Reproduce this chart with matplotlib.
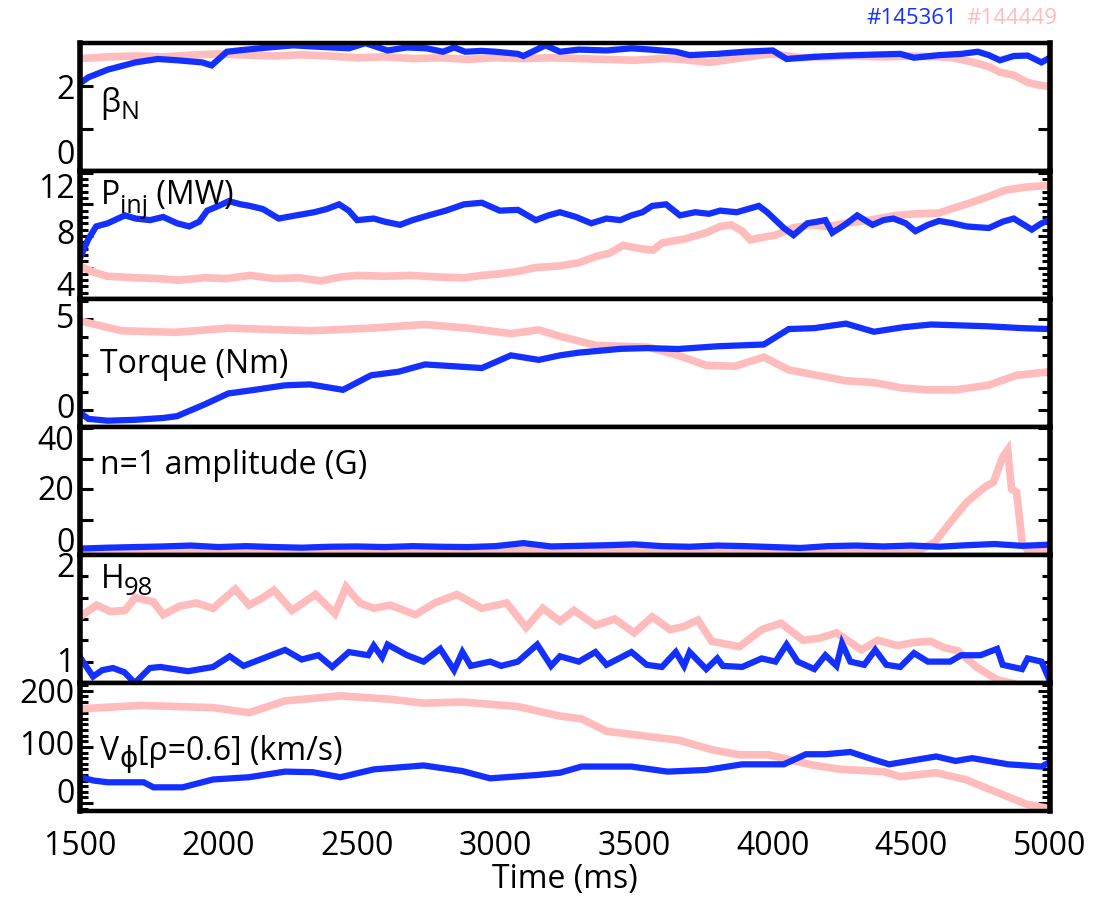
import matplotlib
matplotlib.use("Agg")
import matplotlib.pyplot as plt
from matplotlib.ticker import MultipleLocator

plt.rcParams['font.family'] = ['Open Sans', 'DejaVu Sans']
plt.rcParams['mathtext.fontset'] = 'custom'
plt.rcParams['mathtext.rm'] = 'Open Sans'
plt.rcParams['mathtext.it'] = 'Open Sans'

# shot numbers
shot_a = '#145361'   # blue
shot_b = '#144449'   # pink

# beta_N
t_bn_a = [1500, 1530, 1600, 1700, 1780, 1850, 1940, 1975, 2030, 2100, 2180, 2270, 2350, 2470, 2530, 2610,
          2680, 2750, 2810, 2850, 2890, 2950, 3000, 3080, 3100, 3180, 3232, 3300, 3400, 3490, 3560, 3650,
          3700, 3800, 3900, 4000, 4050, 4150, 4250, 4350, 4460, 4510, 4600, 4680, 4740, 4780, 4820, 4870,
          4920, 4970, 5000]
bn_a = [2.06, 2.2, 2.38, 2.55, 2.63, 2.6, 2.55, 2.48, 2.8, 2.85, 2.9, 2.95, 2.92, 2.88, 3.0, 2.83,
        2.9, 2.88, 2.8, 2.9, 2.8, 2.82, 2.8, 2.75, 2.7, 2.95, 2.8, 2.85, 2.83, 2.88, 2.85, 2.8,
        2.72, 2.75, 2.8, 2.83, 2.63, 2.68, 2.71, 2.73, 2.75, 2.66, 2.72, 2.75, 2.8, 2.72, 2.6, 2.7,
        2.71, 2.55, 2.66]
t_bn_b = [1500, 1600, 1700, 1800, 1900, 2000, 2100, 2200, 2300, 2400, 2500, 2600, 2700, 2800, 2900, 3000,
          3100, 3200, 3300, 3400, 3500, 3600, 3650, 3700, 3770, 3850, 3950, 4000, 4100, 4200, 4300, 4400,
          4500, 4600, 4650, 4720, 4780, 4820, 4870, 4920, 4960, 5000]
bn_b = [2.64, 2.68, 2.7, 2.68, 2.72, 2.75, 2.72, 2.7, 2.73, 2.7, 2.66, 2.68, 2.64, 2.66, 2.62, 2.66,
        2.64, 2.66, 2.64, 2.62, 2.6, 2.64, 2.63, 2.6, 2.55, 2.62, 2.72, 2.75, 2.66, 2.68, 2.7, 2.68,
        2.7, 2.68, 2.66, 2.56, 2.45, 2.32, 2.25, 2.08, 2.02, 1.98]

# injected power (MW)
t_p_a = [1500, 1530, 1558, 1600, 1662, 1700, 1753, 1800, 1850, 1894, 1930, 1959, 2000, 2037, 2080, 2113,
         2160, 2217, 2280, 2345, 2390, 2435, 2470, 2500, 2560, 2600, 2655, 2700, 2758, 2820, 2886, 2950,
         3015, 3080, 3145, 3190, 3232, 3290, 3345, 3400, 3450, 3490, 3530, 3565, 3615, 3665, 3720, 3770,
         3810, 3870, 3950, 3980, 4010, 4040, 4075, 4125, 4160, 4190, 4215, 4260, 4305, 4360, 4400, 4435,
         4480, 4515, 4560, 4600, 4650, 4700, 4780, 4830, 4870, 4935, 4970, 5000]
p_a = [6.6, 7.8, 8.6, 8.8, 9.3, 9.1, 9.0, 9.2, 8.8, 8.6, 8.9, 9.6, 9.9, 10.2, 10.0, 9.9,
       9.7, 9.1, 9.3, 9.5, 9.7, 10.0, 9.6, 9.0, 9.1, 8.9, 8.7, 9.0, 9.3, 9.6, 10.0, 10.1,
       9.6, 9.65, 9.0, 9.3, 9.5, 9.2, 8.8, 9.1, 9.0, 9.3, 9.5, 9.9, 10.0, 9.3, 9.5, 9.4,
       9.6, 9.5, 9.9, 9.5, 9.0, 8.5, 8.05, 8.8, 8.9, 9.0, 8.2, 8.7, 9.3, 8.7, 9.0, 9.1,
       8.8, 8.3, 8.7, 8.95, 8.8, 8.6, 8.5, 8.9, 9.1, 8.4, 8.8, 9.0]
t_p_b = [1500, 1550, 1598, 1700, 1780, 1856, 1950, 2030, 2113, 2200, 2290, 2370, 2440, 2500, 2600, 2694,
         2790, 2886, 2950, 3015, 3080, 3145, 3232, 3300, 3362, 3410, 3460, 3520, 3568, 3600, 3680, 3760,
         3810, 3850, 3890, 3920, 3960, 4010, 4070, 4140, 4200, 4264, 4350, 4445, 4520, 4600, 4660, 4715,
         4780, 4840, 4920, 5000]
p_b = [6.1, 5.7, 5.45, 5.35, 5.3, 5.2, 5.35, 5.3, 5.5, 5.3, 5.35, 5.15, 5.4, 5.5, 5.45, 5.5,
       5.4, 5.35, 5.5, 5.6, 5.75, 6.0, 6.1, 6.3, 6.7, 6.9, 7.4, 7.2, 7.1, 7.55, 7.8, 8.2,
       8.6, 8.7, 8.3, 7.75, 7.9, 8.05, 8.5, 8.7, 8.6, 8.8, 9.0, 9.3, 9.4, 9.45, 9.8, 10.1,
       10.5, 10.9, 11.1, 11.2]

# torque (Nm)
t_q_a = [1500, 1530, 1600, 1700, 1800, 1850, 1950, 2035, 2130, 2240, 2330, 2449, 2550, 2650, 2745, 2850,
         2950, 3055, 3156, 3232, 3300, 3452, 3550, 3658, 3800, 3968, 4058, 4150, 4264, 4365, 4471, 4571,
         4680, 4779, 4900, 5000]
q_a = [-0.15, -0.5, -0.6, -0.55, -0.45, -0.35, 0.3, 0.9, 1.1, 1.35, 1.4, 1.1, 1.9, 2.1, 2.5, 2.4,
       2.3, 3.0, 2.75, 3.0, 3.15, 3.36, 3.4, 3.35, 3.5, 3.6, 4.45, 4.5, 4.75, 4.3, 4.55, 4.7,
       4.65, 4.6, 4.5, 4.45]
t_q_b = [1500, 1649, 1843, 2035, 2333, 2550, 2745, 2900, 3055, 3156, 3232, 3362, 3553, 3658, 3760, 3864,
         3968, 4058, 4160, 4264, 4365, 4469, 4560, 4660, 4779, 4880, 5000]
q_b = [4.9, 4.36, 4.27, 4.5, 4.36, 4.5, 4.7, 4.5, 4.2, 4.4, 4.05, 3.55, 3.45, 3.0, 2.45, 2.4,
       2.9, 2.2, 1.9, 1.6, 1.5, 1.2, 1.1, 1.1, 1.36, 1.9, 2.1]

# n=1 amplitude (G)
t_n_a = [1500, 1600, 1700, 1800, 1900, 2000, 2100, 2200, 2300, 2400, 2500, 2600, 2700, 2800, 2900, 3000,
         3100, 3200, 3300, 3400, 3500, 3600, 3700, 3800, 3900, 4000, 4100, 4200, 4300, 4400, 4500, 4600,
         4700, 4800, 4900, 5000]
n_a = [0.5, 0.8, 1.0, 1.2, 1.5, 1.0, 1.3, 1.0, 0.8, 1.1, 1.2, 1.0, 1.3, 1.1, 1.0, 1.3,
       2.3, 1.2, 1.4, 1.6, 1.9, 1.3, 1.1, 1.5, 1.3, 1.0, 0.7, 1.3, 1.5, 1.2, 1.5, 1.1,
       1.6, 2.0, 1.4, 1.8]
t_n_b = [1500, 2000, 2500, 3000, 3500, 4000, 4530, 4585, 4640, 4700, 4765, 4797, 4830, 4848, 4862, 4880,
         4900, 4920, 5000]
n_b = [0, 0, 0, 0, 0, 0, 0, 2.6, 9, 15.7, 20.6, 22.3, 30.5, 32.8, 20, 19,
       2.6, 0, 0]

# H98
t_h_a = [1500, 1547, 1580, 1619, 1660, 1698, 1752, 1790, 1890, 1980, 2040, 2090, 2170, 2240, 2300, 2360,
         2410, 2470, 2540, 2560, 2590, 2610, 2680, 2740, 2800, 2850, 2880, 2910, 2980, 3020, 3080, 3150,
         3200, 3232, 3300, 3360, 3400, 3490, 3545, 3600, 3650, 3680, 3700, 3760, 3800, 3820, 3890, 3960,
         4010, 4050, 4090, 4150, 4190, 4230, 4250, 4280, 4330, 4370, 4410, 4460, 4510, 4560, 4640, 4680,
         4750, 4810, 4830, 4900, 4920, 4970, 4990, 5000]
h_a = [1.04, 0.86, 0.92, 0.94, 0.9, 0.8, 0.94, 0.95, 0.91, 0.95, 1.05, 0.96, 1.04, 1.11, 1.02, 1.06,
       0.95, 1.09, 1.06, 1.15, 1.04, 1.16, 1.06, 1.0, 1.12, 0.92, 1.09, 0.96, 1.0, 0.96, 1.0, 1.16,
       0.96, 1.05, 1.0, 1.09, 0.97, 1.09, 0.97, 0.95, 1.09, 0.96, 1.09, 0.93, 1.03, 0.96, 0.95, 1.03,
       1.0, 1.16, 1.0, 0.93, 1.06, 0.96, 1.17, 1.0, 0.97, 1.11, 0.97, 0.95, 1.08, 1.0, 1.0, 1.06,
       1.06, 1.12, 0.97, 0.93, 1.03, 1.0, 0.88, 0.95]
t_h_b = [1500, 1560, 1610, 1662, 1700, 1765, 1800, 1860, 1920, 1980, 2060, 2110, 2160, 2200, 2265, 2350,
         2420, 2460, 2510, 2560, 2620, 2710, 2780, 2860, 2950, 3040, 3110, 3170, 3232, 3283, 3360, 3430,
         3500, 3565, 3630, 3680, 3730, 3780, 3880, 3960, 4030, 4110, 4170, 4230, 4320, 4380, 4450, 4510,
         4570, 4620, 4670, 4735, 4810, 4860]
h_b = [1.42, 1.53, 1.47, 1.48, 1.6, 1.56, 1.44, 1.52, 1.55, 1.5, 1.68, 1.53, 1.6, 1.67, 1.48, 1.63,
       1.45, 1.7, 1.55, 1.5, 1.53, 1.44, 1.55, 1.63, 1.5, 1.55, 1.32, 1.5, 1.38, 1.48, 1.34, 1.4,
       1.27, 1.42, 1.3, 1.33, 1.39, 1.19, 1.14, 1.3, 1.36, 1.2, 1.22, 1.27, 1.11, 1.2, 1.15, 1.18,
       1.19, 1.13, 1.1, 0.95, 0.83, 0.8]

# V_phi at rho=0.6 (km/s)
t_v_a = [1500, 1550, 1600, 1730, 1765, 1870, 1980, 2110, 2240, 2340, 2440, 2560, 2740, 2880, 2980, 3150,
         3232, 3310, 3490, 3620, 3760, 3890, 4040, 4120, 4190, 4280, 4360, 4420, 4590, 4660, 4720, 4850,
         4970, 5000]
v_a = [46, 40, 37, 37, 28, 28, 42, 46, 56, 55, 46, 60, 67, 57, 44, 50,
       54, 65, 65, 56, 59, 69, 69, 87, 87, 91, 78, 69, 83, 75, 80, 69,
       65, 73]
t_v_b = [1500, 1720, 1980, 2110, 2240, 2440, 2620, 2740, 2880, 3080, 3232, 3310, 3400, 3560, 3660, 3780,
         3880, 3985, 4140, 4245, 4400, 4460, 4590, 4695, 4850, 4915, 5000]
v_b = [168, 174, 170, 161, 182, 191, 185, 178, 180, 172, 155, 150, 128, 118, 112, 95,
       86, 86, 68, 60, 56, 47, 54, 42, 11, -2, -10]

xticks = [1500, 2000, 2500, 3000, 3500, 4000, 4500, 5000]

blue = '#1430ff'
pink = '#ffbcbc'
FS = 23

fig = plt.figure(figsize=(11.18, 9.0), dpi=100)
gs = fig.add_gridspec(6, 1, left=0.0716, right=0.939, top=0.952, bottom=0.099, hspace=0)
axs = [fig.add_subplot(gs[i]) for i in range(6)]
renderer = fig.canvas.get_renderer()


def panel_label(ax, y, parts):
    # parts: (text, fontsize, vertical offset in points); drawn one after another on a baseline
    off = 0.0
    for txt, fs, dy in parts:
        t = ax.annotate(txt, (0.021, y), xycoords='axes fraction', xytext=(off, dy),
                        textcoords='offset points', fontsize=fs, va='baseline', ha='left')
        off += t.get_window_extent(renderer).width * 72 / fig.dpi


# ylim, tick values, (label value, text, shift in points), minor step, label parts, label baseline
panels = [
    (t_bn_a, bn_a, t_bn_b, bn_b, (0, 3), [0, 1, 2, 3],
     [(2, '2', -3), (0, '0', 11)], None,
     [('β', FS, 0), ('N', 18, -5)], 0.46),
    (t_p_a, p_a, t_p_b, p_b, (4, 12.1), [4, 6, 8, 10, 12],
     [(12, '12', -12), (8, '8', 0), (4, '4', 8.5)], 0.4,
     [('P', FS, 0), ('inj', 18, -6), (' (MW)', FS, 0)], 0.74),
    (t_q_a, q_a, t_q_b, q_b, (-0.95, 6.1), [0, 5],
     [(5, '5', 0), (0, '0', 0)], 1,
     [('Torque (Nm)', FS, 0)], 0.426),
    (t_n_a, n_a, t_n_b, n_b, (-1.6, 40.3), [0, 10, 20, 30, 40],
     [(40, '40', -9.5), (20, '20', -2), (0, '0', 4.5)], None,
     [('n=1 amplitude (G)', FS, 0)], 0.633),
    (t_h_a, h_a, t_h_b, h_b, (0.8, 2.0), [1, 2],
     [(2, '2', -10), (1, '1', -1.5)], 0.2,
     [('H', FS, 0), ('98', 18.5, -5)], 0.74),
    (t_v_a, v_a, t_v_b, v_b, (-14, 214), [0, 100, 200],
     [(200, '200', -3), (100, '100', 0), (0, '0', 6)], 10,
     [('V', FS, 0), ('ϕ', 20, -5), ('[ρ=0.6] (km/s)', FS, 0)], 0.40),
]

for ax, (ta, ya, tb, yb, ylim, yt, ylabs, minor, parts, ly) in zip(axs, panels):
    ax.plot(tb, yb, color=pink, lw=5.5, solid_joinstyle='miter')
    ax.plot(ta, ya, color=blue, lw=4.5, solid_joinstyle='miter')
    ax.set_xlim(1500, 5000)
    ax.set_ylim(*ylim)
    ax.set_yticks(yt)
    ax.set_yticklabels([])
    if minor:
        ax.yaxis.set_minor_locator(MultipleLocator(minor))
    ax.tick_params(axis='y', which='major', direction='in', left=True, right=True,
                   length=9, width=2.2)
    ax.tick_params(axis='y', which='minor', direction='in', left=True, right=True,
                   length=5.5, width=2.2)
    ax.set_xticks(xticks)
    ax.tick_params(axis='x', length=0, labelsize=FS, pad=14)
    for side, s in ax.spines.items():
        s.set_linewidth(4.0 if side in ('left', 'right') else 3.2)
    for v, txt, dy in ylabs:
        ax.annotate(txt, (0, v), xycoords=('axes fraction', 'data'), xytext=(-4, dy),
                    textcoords='offset points', fontsize=FS, ha='right', va='center',
                    annotation_clip=False)
    panel_label(ax, ly, parts)
    if ax is not axs[-1]:
        ax.tick_params(axis='x', labelbottom=False)

axs[-1].set_xlabel('Time (ms)', fontsize=FS, labelpad=0)

fig.text(0.856, 0.979, shot_a, color=blue, fontsize=16, ha='right', va='center')
fig.text(0.946, 0.979, shot_b, color=pink, fontsize=16, ha='right', va='center')

fig.savefig('out.png', dpi=100)
